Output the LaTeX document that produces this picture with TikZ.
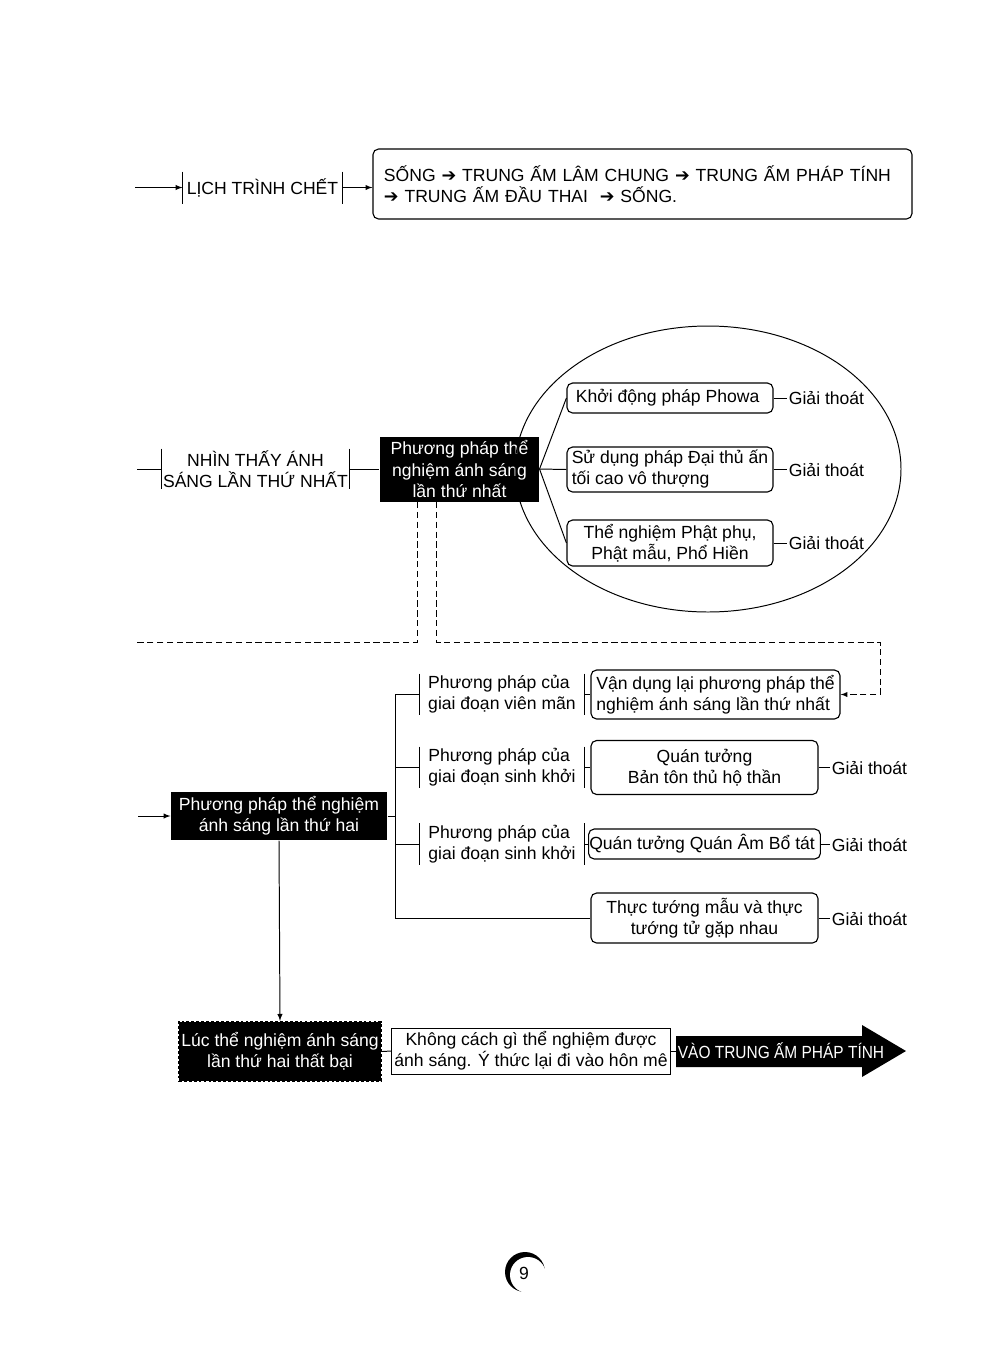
\documentclass[tikz,border=0pt]{standalone}
\usepackage{fontspec}
\setmainfont{Liberation Sans}
\newfontfamily\dingfont{DejaVu Sans}
\newfontfamily\narrowfont[FakeStretch=0.88]{Liberation Sans}
\usepackage{tikz}
\usetikzlibrary{positioning}
\usetikzlibrary{arrows}
\newcommand{\diagfont}{\fontsize{12.5}{15}\selectfont}
\newcommand{\thickarr}{{\dingfont\char"2794}}
\tikzset {
        roundbox/.style={draw, rounded corners=4pt, align=center, inner sep=2pt, line width=0.8pt},
        plainbox/.style={draw, rectangle, align=center, inner sep=2pt, line width=0.6pt},
        blackbox/.style={fill=black, text=white, align=center, inner sep=1pt},
        barbox/.style={align=center, inner sep=1pt,
            append after command={(\tikzlastnode.north west) edge (\tikzlastnode.south west)
                                  (\tikzlastnode.north east) edge (\tikzlastnode.south east)}},
        freelabel/.style={anchor=west, inner sep=1pt},
        linkdash/.style={dash pattern=on 4.5pt off 2.5pt, line width=0.7pt}
}

\begin{document}
\begin{tikzpicture}[x=0.025cm, y=-0.025cm, line width=0.7pt, every node/.style={font=\diagfont}]
            \useasboundingbox (0,0) rectangle (1000,1350);

            % top row
            \coordinate (StartTop) at (135,187.5);
            \node[barbox, minimum width=3.975cm, minimum height=0.775cm] (LichTrinh) at (262.5,187.5) {L\d{I}CH TRÌNH CHẾT};
            \node[roundbox, align=left, inner xsep=7.8pt, text width=12.925cm, minimum height=1.75cm] (ChuoiSong) at (642.5,184) {
                SỐNG \thickarr{} TRUNG ẤM LÂM CHUNG \thickarr{} TRUNG ẤM PHÁP TÍNH\\
                \thickarr{} TRUNG ẤM ĐẦU THAI \ \thickarr{} SỐNG.
            };
            \draw[-latex] (StartTop) -- (LichTrinh.west);
            \draw[-latex] (LichTrinh.east) -- (LichTrinh.east -| ChuoiSong.west);

            % first light
            \coordinate (StartMid) at (137,469);
            \node[barbox, minimum width=4.675cm, minimum height=0.9cm] (NhinThay) at (255.5,469) {
                NHÌN THẤY ÁNH\\SÁNG LẦN THỨ NHẤT
            };
            \node[blackbox, minimum width=3.975cm, minimum height=1.625cm] (PPThuNhat) at (459.5,469) {
                Phương pháp thể\\nghiệm ánh sáng\\lần thứ nhất
            };
            \draw (708,469) ellipse [x radius=193, y radius=143];
            \node[roundbox, minimum width=5.15cm, minimum height=0.75cm] (Phowa) at (670,398) {
                Khởi động pháp Phowa
            };
            \node[roundbox, align=left, minimum width=5.15cm, minimum height=1.125cm] (DaiThuAn) at (670,469.5) {
                Sử dụng pháp Đại thủ ấn\\tối cao vô thượng
            };
            \node[roundbox, minimum width=5.15cm, minimum height=1.15cm] (PhatPhu) at (670,543) {
                Thể nghiệm Phật phụ,\\Phật mẫu, Phổ Hiền
            };
            \node[freelabel] (GiaiThoatA) at (787,398) {Giải thoát};
            \node[freelabel] (GiaiThoatB) at (787,470) {Giải thoát};
            \node[freelabel] (GiaiThoatC) at (787,543) {Giải thoát};

            \draw (StartMid) -- (NhinThay.west);
            \draw (NhinThay.east) -- (PPThuNhat.west);
            \draw (PPThuNhat.east) -- (Phowa.west);
            \draw (PPThuNhat.east) -- (DaiThuAn.west);
            \draw (PPThuNhat.east) -- (PhatPhu.west);
            \draw (Phowa.east) -- (GiaiThoatA.west);
            \draw (DaiThuAn.east) -- (DaiThuAn.east -| GiaiThoatB.west);
            \draw (PhatPhu.east) -- (GiaiThoatC.west);

            % dashed links
            \coordinate (DashL) at (137,642);
            \coordinate (DashR) at (880,642);
            \draw[linkdash] ([xshift=-1.0625cm]PPThuNhat.south) |- (DashL);

            % second light
            \coordinate (StartLow) at (138,816);
            \node[blackbox, minimum width=5.4cm, minimum height=1.2cm] (PPThuHai) at (279,816) {
                Phương pháp thể nghiệm\\ánh sáng lần thứ hai
            };
            \node[barbox, align=left, minimum width=4.1cm, minimum height=0.9cm] (VienMan) at (502,694.5) {
                Phương pháp của\\giai đoạn viên mãn
            };
            \node[barbox, align=left, minimum width=4.1cm, minimum height=0.9cm] (SinhKhoiA) at (502,767.5) {
                Phương pháp của\\giai đoạn sinh khởi
            };
            \node[barbox, align=left, minimum width=4.1cm, minimum height=0.9cm] (SinhKhoiB) at (502,844) {
                Phương pháp của\\giai đoạn sinh khởi
            };
            \node[roundbox, align=left, minimum width=6.225cm, minimum height=1.225cm] (VanDung) at (715.5,694.5) {
                Vận dụng lại phương pháp thể\\nghiệm ánh sáng lần thứ nhất
            };
            \node[roundbox, minimum width=5.675cm, minimum height=1.35cm] (BanTon) at (704.5,767.5) {
                Quán tưởng\\Bản tôn thủ hộ thần
            };
            \node[roundbox, minimum width=5.675cm, minimum height=0.75cm, inner sep=0.5pt] (QuanAm) at (704.5,844) {
                Quán tưởng Quán Âm Bổ tát
            };
            \node[roundbox, minimum width=5.675cm, minimum height=1.25cm] (ThucTuong) at (704.5,918) {
                Thực tướng mẫu và thực\\tướng tử gặp nhau
            };
            \node[freelabel] (GiaiThoatD) at (830,768) {Giải thoát};
            \node[freelabel] (GiaiThoatE) at (830,845) {Giải thoát};
            \node[freelabel] (GiaiThoatF) at (830,919) {Giải thoát};

            \draw[linkdash, -latex] ([xshift=-0.575cm]PPThuNhat.south) |- (DashR) |- (VanDung.east);
            \draw[-latex] (StartLow) -- (PPThuHai.west);
            \draw (PPThuHai.east) -- ++(8,0);
            \draw (VienMan.west) -- ++(-24,0) |- (ThucTuong.west);
            \draw (SinhKhoiA.west) -- ++(-24,0);
            \draw (SinhKhoiB.west) -- ++(-24,0);
            \draw (VienMan.east) -- (VanDung.west);
            \draw (SinhKhoiA.east) -- (BanTon.west);
            \draw (SinhKhoiB.east) -- (QuanAm.west);
            \draw (BanTon.east) -- (BanTon.east -| GiaiThoatD.west);
            \draw (QuanAm.east) -- (QuanAm.east -| GiaiThoatE.west);
            \draw (ThucTuong.east) -- (ThucTuong.east -| GiaiThoatF.west);

            % failure
            \node[blackbox, draw=black, dash pattern=on 2pt off 1.5pt, line width=1.6pt, minimum width=5.05cm, minimum height=1.475cm] (ThatBai) at (280,1051.5) {
                Lúc thể nghiệm ánh sáng\\lần thứ hai thất bại
            };
            \node[plainbox, minimum width=6.75cm, minimum height=1.15cm] (KhongCach) at (531,1051) {
                Không cách gì thể nghiệm được\\ánh sáng. Ý thức lại đi vào hôn mê
            };
            \fill (676,1036) -- (862,1036) -- (862,1025) -- (906,1051) -- (862,1077) -- (862,1067) -- (676,1067) -- cycle;
            \coordinate (ArrowTail) at (676,1051);
            \node[anchor=west, text=white, inner sep=1pt, font=\diagfont\narrowfont] (VaoTrungAm) at (ArrowTail) {VÀO TRUNG ẤM PHÁP TÍNH};

            \draw[-latex] (PPThuHai.south) -- (ThatBai.north);
            \draw (ThatBai.east) -- (KhongCach.west);
            \draw (KhongCach.east) -- (ArrowTail);

            % page number
            \fill (525,1272) circle (20);
            \fill[white] (528,1275) circle (18);
            \node (PageNo) at (524,1273) {9};
\end{tikzpicture}
\end{document}
